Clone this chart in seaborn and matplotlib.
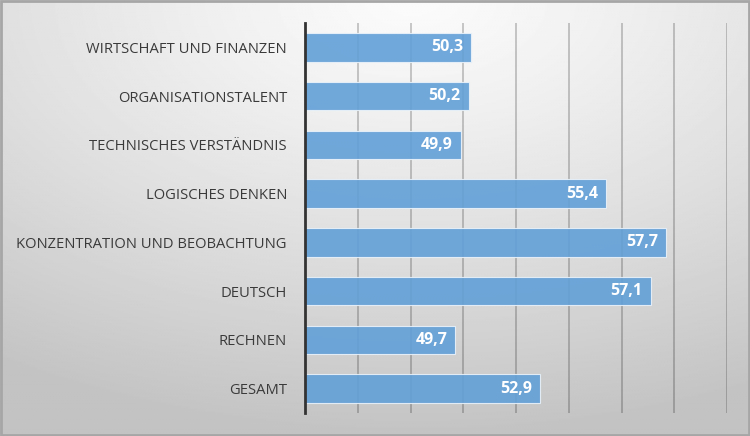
import numpy as np
import matplotlib
matplotlib.use("Agg")
import matplotlib.pyplot as plt
import seaborn as sns
from matplotlib.patches import Rectangle

sns.set_style("white")
plt.rcParams['font.family'] = ['Open Sans', 'DejaVu Sans']

# -----------------------------
# Data
# -----------------------------
categories = ["WIRTSCHAFT UND FINANZEN", "ORGANISATIONSTALENT",
              "TECHNISCHES VERSTÄNDNIS", "LOGISCHES DENKEN",
              "KONZENTRATION UND BEOBACHTUNG", "DEUTSCH", "RECHNEN", "GESAMT"]
values = [50.3, 50.2, 49.9, 55.4, 57.7, 57.1, 49.7, 52.9]
x_min, x_max, x_step = 44, 60, 2

fig = plt.figure(figsize=(7.5, 4.36), dpi=100)

# background gradient (light at top centre, grey towards the corners)
bg = fig.add_axes([0, 0, 1, 1], zorder=-1)
yy, xx = np.mgrid[0:1:300j, 0:1:500j]
dist = np.sqrt(((xx - 0.55) * 1.0) ** 2 + ((yy - 0.0) * 1.0) ** 2)
shade = 0.985 - 0.22 * np.clip(dist / 1.0, 0, 1) ** 1.2
bg.imshow(shade, cmap="gray", vmin=0, vmax=1, aspect="auto", extent=[0, 1, 1, 0])
bg.set_axis_off()
fig.patches.append(Rectangle((0.001, 0.002), 0.998, 0.995, transform=fig.transFigure,
                             fill=False, edgecolor="#a6a6a6", linewidth=2))

ax = fig.add_axes([305 / 750, 23 / 436, (727 - 305) / 750, (413 - 23) / 436])
ax.patch.set_alpha(0)

sns.barplot(x=values, y=categories, orient="h", color="#62a0d8", alpha=0.9,
            saturation=1, width=0.58, edgecolor="#eaf2fa", linewidth=0.8,
            ax=ax, zorder=2)

ax.set_xlim(x_min, x_max)
ax.set_ylim(len(categories) - 0.5, -0.5)
ax.set_xticks(np.arange(x_min, x_max + 1, x_step))
ax.xaxis.grid(True, color="black", alpha=0.22, linewidth=1.3, zorder=1)
ax.set_axisbelow(True)
ax.tick_params(axis="x", labelbottom=False, length=0)
ax.tick_params(axis="y", length=0, pad=13, labelsize=10.6, labelcolor="#3a3a3a")
for s in ["top", "right", "bottom"]:
    ax.spines[s].set_visible(False)
ax.spines["left"].set_color("#333333")
ax.spines["left"].set_linewidth(2)
ax.spines["left"].set_zorder(3)
ax.set_xlabel("")
ax.set_ylabel("")

for i, v in enumerate(values):
    ax.text(v - 0.3, i, f"{v:.1f}".replace(".", ","), ha="right", va="center",
            color="white", fontsize=11.5, fontweight="bold", zorder=4)

plt.savefig("out.png", dpi=100)
